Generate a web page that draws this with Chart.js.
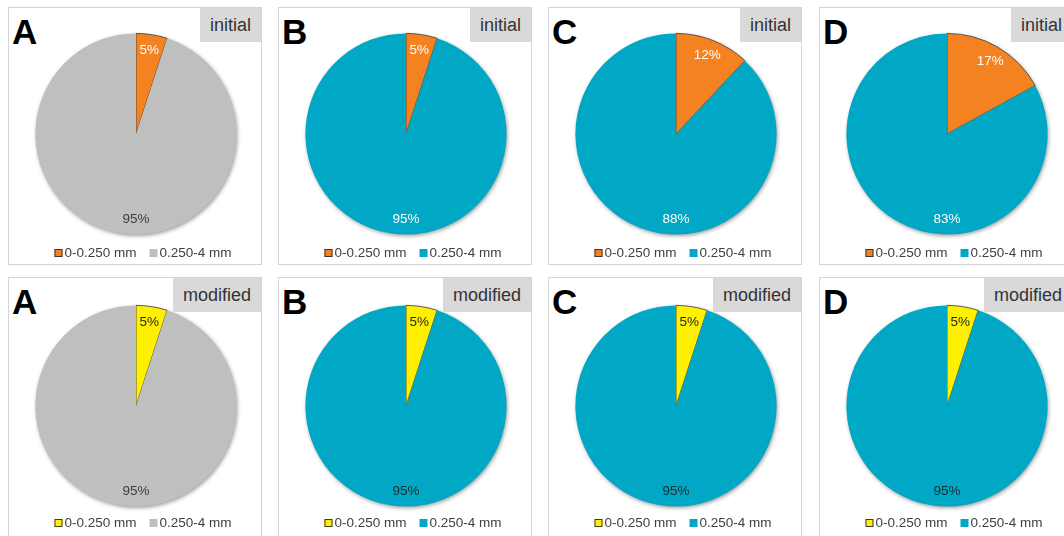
<!DOCTYPE html>
<html>
<head>
<meta charset="utf-8">
<script src="https://cdn.jsdelivr.net/npm/chart.js@4/dist/chart.umd.min.js"></script>
<style>
  html, body { margin: 0; padding: 0; background: #fff; }
  body { width: 1064px; height: 536px; overflow: hidden; position: relative; font-family: "Liberation Sans", Arial, sans-serif; }
  .panel { position: absolute; width: 254px; height: 258px; border: 1px solid #d4d4d4; box-sizing: border-box; background: #fff; }
  .panel canvas { position: absolute; left: 0; top: 0; }
  .letter { position: absolute; left: 3px; top: 6px; font-weight: bold; font-size: 35px; line-height: 35px; color: #000; }
  .tag { position: absolute; right: 0; top: 0; height: 34px; line-height: 34px; padding: 0 10px; background: #d9d9d9; color: #333; font-size: 18px; }
</style>
</head>
<body>
<script>
const panelLetters = ['A', 'B', 'C', 'D'];
const sizeClasses = ['0-0.250 mm', '0.250-4 mm'];
const rowNames = ['initial', 'modified'];
const initialFine = [5, 5, 12, 17];
const initialCoarse = [95, 95, 88, 83];
const modifiedFine = [5, 5, 5, 5];
const modifiedCoarse = [95, 95, 95, 95];

const ORANGE = '#F58220', YELLOW = '#FFF000', GREY = '#BFBFBF', TEAL = '#00A8C6';
const panelLeft = [8, 278, 548, 819];
const panelTop = [7, 277];
const FONT = '"Liberation Sans", Arial';

// percentages: small slice at inside end, big slice at the bottom
const pctLabels = {
  id: 'pctLabels',
  afterDatasetsDraw(chart) {
    const ctx = chart.ctx;
    const meta = chart.getDatasetMeta(0);
    const ds = chart.data.datasets[0];
    const total = ds.data.reduce((a, b) => a + b, 0);
    ctx.save();
    ctx.font = '13.5px ' + FONT;
    ctx.textAlign = 'center';
    ctx.textBaseline = 'middle';
    meta.data.forEach((arc, i) => {
      const p = arc.getProps(['x', 'y', 'startAngle', 'endAngle', 'outerRadius'], true);
      let ang = (p.startAngle + p.endAngle) / 2;
      if (ds.data[i] / total > 0.5) ang = Math.PI / 2;
      const r = p.outerRadius * 0.845;
      ctx.fillStyle = ds.labelColors[i];
      ctx.fillText(Math.round(ds.data[i] / total * 100) + '%', p.x + Math.cos(ang) * r, p.y + Math.sin(ang) * r);
    });
    ctx.restore();
  }
};

// soft shadow under the pie
const pieShadow = {
  id: 'pieShadow',
  beforeDatasetsDraw(chart) {
    const arc = chart.getDatasetMeta(0).data[0];
    if (!arc) return;
    const ctx = chart.ctx;
    ctx.save();
    ctx.shadowColor = 'rgba(0,0,0,0.45)';
    ctx.shadowBlur = 4;
    ctx.shadowOffsetX = 1;
    ctx.shadowOffsetY = 1.5;
    ctx.fillStyle = '#bbb';
    ctx.beginPath();
    ctx.arc(arc.x, arc.y, arc.outerRadius - 0.5, 0, Math.PI * 2);
    ctx.fill();
    ctx.restore();
  }
};

// compact excel-like legend under the pie
const smallLegend = {
  id: 'smallLegend',
  afterDraw(chart) {
    const ctx = chart.ctx;
    const ds = chart.data.datasets[0];
    const arc = chart.getDatasetMeta(0).data[0];
    ctx.save();
    ctx.font = '13.5px ' + FONT;
    ctx.textBaseline = 'middle';
    const box = 8, gap = 2, sep = 13;
    const widths = chart.data.labels.map(l => ctx.measureText(l).width);
    let total = 0;
    widths.forEach((w, i) => { total += box + gap + w + (i ? sep : 0); });
    let x = arc.x + 7 - total / 2;
    const y = chart.options.legendY;
    chart.data.labels.forEach((lab, i) => {
      ctx.fillStyle = ds.backgroundColor[i];
      ctx.fillRect(x, y - box / 2, box, box);
      if (ds.borderWidth[i] > 0) {
        ctx.strokeStyle = ds.borderColor[i];
        ctx.lineWidth = 1;
        ctx.strokeRect(x + 0.5, y - box / 2 + 0.5, box - 1, box - 1);
      }
      ctx.fillStyle = '#404040';
      ctx.fillText(lab, x + box + gap, y + 0.5);
      x += box + gap + widths[i] + sep;
    });
    ctx.restore();
  }
};

function makePanel(row, col) {
  const div = document.createElement('div');
  div.className = 'panel';
  div.style.left = panelLeft[col] + 'px';
  div.style.top = panelTop[row] + 'px';
  if (row === 1) div.style.height = '264px';
  div.innerHTML = '<div class="letter">' + panelLetters[col] + '</div>';
  const cv = document.createElement('canvas');
  cv.width = 252; cv.height = 256;
  cv.style.width = '252px'; cv.style.height = '256px';
  div.appendChild(cv);
  const tag = document.createElement('div');
  tag.className = 'tag';
  tag.textContent = rowNames[row];
  div.appendChild(tag);
  document.body.appendChild(div);

  const fine = row === 0 ? initialFine[col] : modifiedFine[col];
  const coarse = row === 0 ? initialCoarse[col] : modifiedCoarse[col];
  const fineColor = row === 0 ? ORANGE : YELLOW;
  const coarseColor = col === 0 ? GREY : TEAL;
  let labelColors;
  if (row === 0) labelColors = ['#ffffff', col === 0 ? '#404040' : '#ffffff'];
  else labelColors = ['#262626', col === 0 ? '#404040' : '#1e2a2e'];
  const padTop = row === 0 ? 25 : 27;

  new Chart(cv, {
    type: 'pie',
    data: {
      labels: sizeClasses,
      datasets: [{
        data: [fine, coarse],
        backgroundColor: [fineColor, coarseColor],
        borderColor: ['#3a3a3a', coarseColor],
        borderWidth: [0.8, 0],
        hoverOffset: 0,
        labelColors: labelColors
      }]
    },
    options: {
      responsive: false,
      animation: false,
      events: [],
      legendY: 245,
      layout: { padding: { left: 26, right: 24, top: padTop, bottom: 54 - padTop } },
      plugins: {
        legend: { display: false },
        tooltip: { enabled: false }
      }
    },
    plugins: [pieShadow, pctLabels, smallLegend]
  });
}

for (let r = 0; r < 2; r++) {
  for (let c = 0; c < 4; c++) makePanel(r, c);
}
</script>
</body>
</html>
